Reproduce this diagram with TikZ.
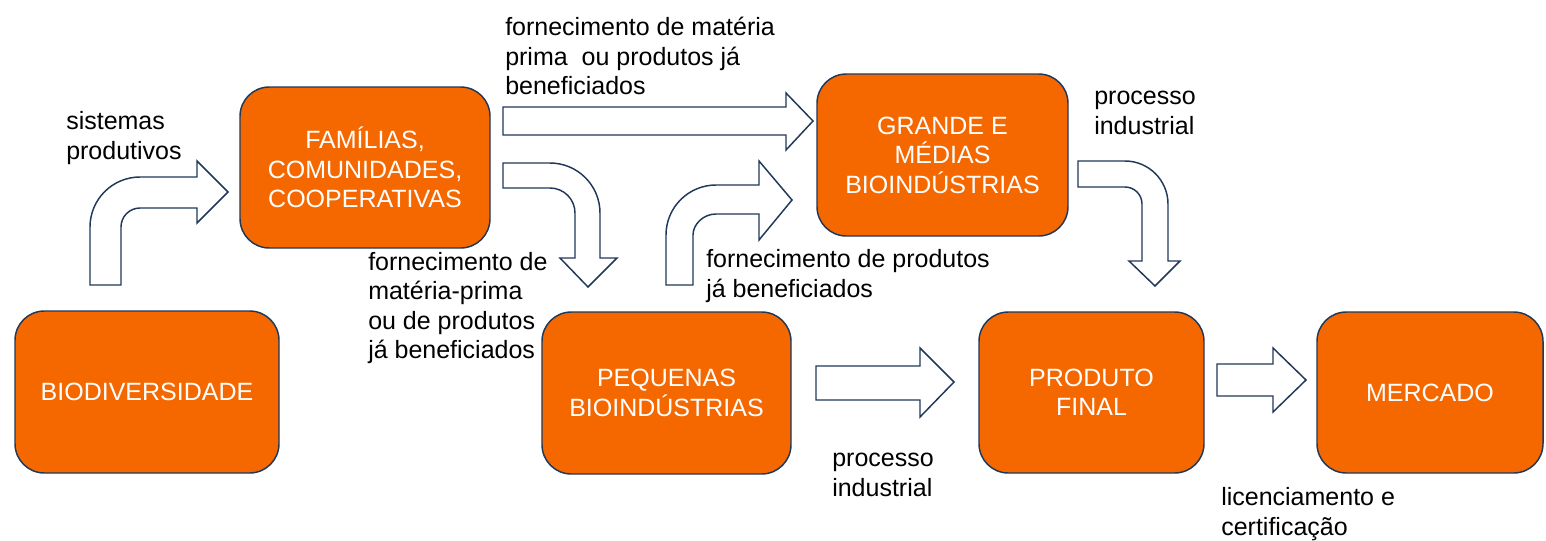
\documentclass[tikz,border=0pt]{standalone}
\usepackage{fontspec}
\setmainfont{Liberation Sans}
\definecolor{boxor}{RGB}{245,104,0}
\definecolor{navy}{RGB}{32,56,90}
\begin{document}
\begin{tikzpicture}[x=0.75pt,y=-0.75pt,
  box/.style={draw=navy,line width=1.1pt,fill=boxor,rounded corners=22pt,
    text=white,align=center,font=\fontsize{18.75}{22.1}\selectfont,inner sep=0pt},
  lbl/.style={anchor=west,align=left,inner sep=0pt,text=black,
    font=\fontsize{18.75}{22.1}\selectfont},
  blk/.style={draw=navy,line width=1.1pt,fill=white,line join=miter}]
\useasboundingbox (0,0) rectangle (1546,540);
% boxes
\node[box,minimum width=264*0.75pt,minimum height=162*0.75pt] (bio) at (147,392) {BIODIVERSIDADE};
\node[box,minimum width=250*0.75pt,minimum height=161*0.75pt] (fam) at (365,167.5) {FAMÍLIAS,\\COMUNIDADES,\\COOPERATIVAS};
\node[box,minimum width=251*0.75pt,minimum height=162*0.75pt] (gra) at (942.5,155) {GRANDE E\\MÉDIAS\\BIOINDÚSTRIAS};
\node[box,minimum width=249*0.75pt,minimum height=162*0.75pt] (peq) at (666.5,393) {PEQUENAS\\BIOINDÚSTRIAS};
\node[box,minimum width=225*0.75pt,minimum height=161*0.75pt] (pro) at (1091.5,392.5) {PRODUTO\\FINAL};
\node[box,minimum width=226*0.75pt,minimum height=161*0.75pt] (mer) at (1430,392.5) {MERCADO};
% block arrows
% bio -> fam (bent up-right)
\draw[blk] (90,285) -- (90,227) .. controls (90,199.4) and (112.4,177) .. (140,177)
  -- (197,177) -- (197,161) -- (228,192) -- (197,223) -- (197,208) -- (140,208)
  .. controls (129.5,208) and (121,216.5) .. (121,227) -- (121,285) -- cycle;
% fam -> gra (straight)
\draw[blk] (503,107) -- (786,107) -- (786,93) -- (813,121) -- (786,150) -- (786,135) -- (503,135) -- cycle;
% fam -> peq (bent down)
\draw[blk] (503,163) -- (550,163) .. controls (577.6,163) and (600,185.4) .. (600,213)
  -- (600,258) -- (617,258) -- (588,287) -- (560,258) -- (575,258) -- (575,213)
  .. controls (575,199.2) and (563.8,188) .. (550,188) -- (503,188) -- cycle;
% peq -> gra (bent up-right)
\draw[blk] (666,285) -- (666,235) .. controls (666,207.4) and (688.4,185) .. (716,185)
  -- (759,185) -- (759,161) -- (792,200) -- (759,240) -- (759,214) -- (716,214)
  .. controls (703.3,214) and (693,224.3) .. (693,235) -- (693,285) -- cycle;
% gra -> pro (bent down)
\draw[blk] (1078,161) -- (1125,161) .. controls (1148.7,161) and (1168,180.3) .. (1168,204)
  -- (1168,261) -- (1180,261) -- (1155,286) -- (1129,261) -- (1142,261) -- (1142,204)
  .. controls (1142,194.6) and (1134.4,187) .. (1125,187) -- (1078,187) -- cycle;
% peq -> pro (straight)
\draw[blk] (816,366) -- (920,366) -- (920,348) -- (954,382) -- (920,417) -- (920,400) -- (816,400) -- cycle;
% pro -> mer (straight)
\draw[blk] (1217,364) -- (1273,364) -- (1273,348) -- (1306,380) -- (1273,412) -- (1273,396) -- (1217,396) -- cycle;
% labels
\node[lbl] (l1) at (66,138) {sistemas\\produtivos};
\node[lbl] (l2) at (505,56) {fornecimento de matéria\\prima\ \ ou produtos já\\beneficiados};
\node[lbl] (l3) at (1094,113) {processo\\industrial};
\node[lbl] (l4) at (368,308) {fornecimento de\\matéria-prima\\ou de produtos\\já beneficiados};
\node[lbl] (l5) at (706,276) {fornecimento de produtos\\já beneficiados};
\node[lbl] (l6) at (832,475) {processo\\industrial};
\node[lbl] (l7) at (1221,514) {licenciamento e\\certificação};
\end{tikzpicture}
\end{document}
